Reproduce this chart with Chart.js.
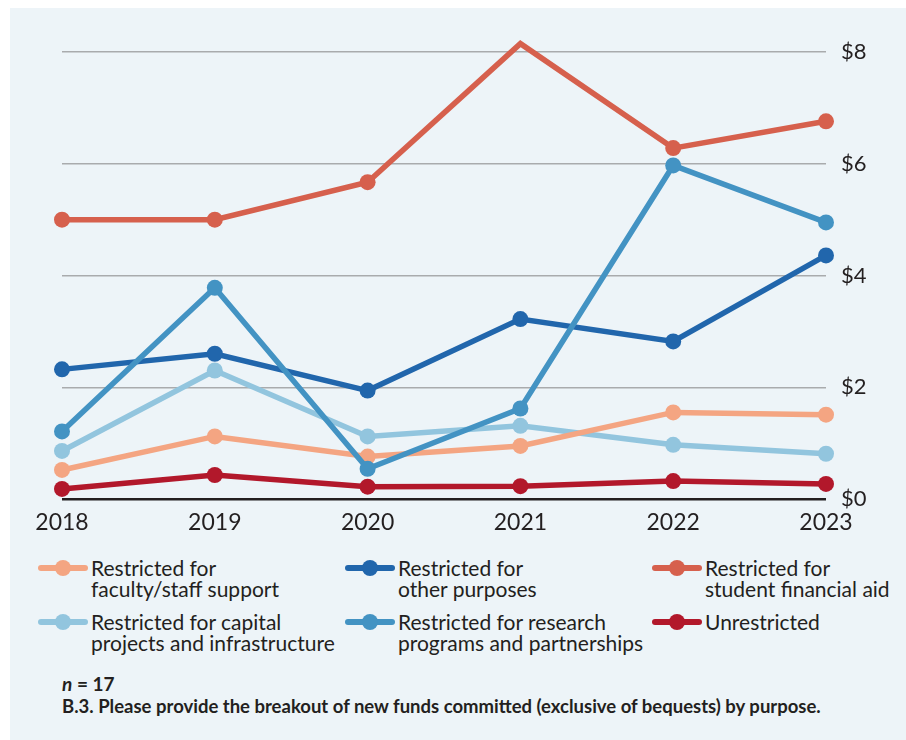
<!DOCTYPE html>
<html>
<head>
<meta charset="utf-8">
<script src="https://cdn.jsdelivr.net/npm/chart.js@4"></script>
<style>
  html, body { margin: 0; padding: 0; background: #fff; }
  body { width: 906px; height: 740px; position: relative; overflow: hidden; font-family: Lato, "Open Sans", sans-serif; color: #231f20; }
  #panel { position: absolute; left: 10px; top: 8px; right: 0; bottom: 0; background: #edf4f8; }
  #wrap { position: absolute; left: 0; top: 0; width: 906px; height: 545px; }
  #legend { position: absolute; left: 0; top: 0; }
  .item { position: absolute; font-size: 21px; line-height: 21px; }
  .mark { position: absolute; width: 50px; height: 6px; border-radius: 3px; }
  .mark span { position: absolute; left: 17px; top: -5px; width: 16px; height: 16px; border-radius: 50%; background: inherit; }
  .txt { position: absolute; white-space: nowrap; }
  .note { position: absolute; left: 62px; font-weight: 700; white-space: nowrap; }
</style>
</head>
<body>
<div id="panel"></div>
<div id="wrap"><canvas id="chart" width="906" height="545"></canvas></div>
<div id="legend"></div>
<div class="note" style="top:672px;font-size:19px;"><i>n</i> = 17</div>
<div class="note" style="top:695px;font-size:18.5px;">B.3. Please provide the breakout of new funds committed (exclusive of bequests) by purpose.</div>
<script>
const years = ["2018", "2019", "2020", "2021", "2022", "2023"];
const yTicks = [0, 2, 4, 6, 8];

const facultyStaff = [0.52, 1.12, 0.76, 0.95, 1.55, 1.51];
const otherPurposes = [2.32, 2.60, 1.94, 3.22, 2.82, 4.36];
const studentAid = [5.0, 5.0, 5.67, 8.15, 6.28, 6.76];
const capitalProjects = [0.86, 2.30, 1.12, 1.31, 0.97, 0.81];
const researchPrograms = [1.21, 3.78, 0.54, 1.62, 5.97, 4.95];
const unrestricted = [0.18, 0.43, 0.22, 0.23, 0.32, 0.27];

const seriesNames = [
  ["Restricted for", "faculty/staff support"],
  ["Restricted for", "other purposes"],
  ["Restricted for", "student financial aid"],
  ["Restricted for capital", "projects and infrastructure"],
  ["Restricted for research", "programs and partnerships"],
  ["Unrestricted"]
];
const seriesColors = ["#f4a582", "#2166ac", "#d6604d", "#92c5de", "#4393c3", "#b2182b"];
const seriesData = [facultyStaff, otherPurposes, studentAid, capitalProjects, researchPrograms, unrestricted];

// draw order: lighter lines underneath
const drawOrder = [3, 0, 5, 1, 4, 2];

const datasets = seriesData.map(function (d, i) {
  return {
    label: seriesNames[i].join(" "),
    data: d,
    borderColor: seriesColors[i],
    backgroundColor: seriesColors[i],
    borderWidth: 5.5,
    pointRadius: 8,
    pointBorderWidth: 0,
    pointHoverRadius: 8,
    tension: 0,
    clip: false,
    order: drawOrder.length - drawOrder.indexOf(i)
  };
});

const ctx = document.getElementById("chart").getContext("2d");
new Chart(ctx, {
  type: "line",
  data: { labels: years, datasets: datasets },
  options: {
    responsive: false,
    animation: false,
    events: [],
    layout: { padding: { left: 62, top: 52, right: 20, bottom: 0 } },
    plugins: { legend: { display: false }, tooltip: { enabled: false } },
    scales: {
      x: {
        offset: false,
        grid: { display: false, drawTicks: false },
        border: { display: false },
        ticks: { color: "#231f20", padding: 10, font: { family: "Lato", size: 23 }, maxRotation: 0 },
        afterFit: function (s) { s.height = 46; }
      },
      y: {
        position: "right",
        min: 0,
        max: 8,
        afterBuildTicks: function (s) { s.ticks = yTicks.map(function (v) { return { value: v }; }); },
        grid: {
          drawTicks: false,
          color: function (c) { return c.tick && c.tick.value === 0 ? "#231f20" : "#a9abad"; },
          lineWidth: function (c) { return c.tick && c.tick.value === 0 ? 2.5 : 1.5; }
        },
        border: { display: false },
        ticks: {
          color: "#231f20",
          padding: 15,
          font: { family: "Lato", size: 22 },
          callback: function (v) { return "$" + v; }
        },
        afterFit: function (s) { s.width = 60; }
      }
    }
  }
});

// html legend, 3 columns
const legend = document.getElementById("legend");
const colX = [38, 345, 652];
const rowY = [557, 611];
seriesNames.forEach(function (lines, i) {
  const item = document.createElement("div");
  item.className = "item";
  item.style.left = colX[i % 3] + "px";
  item.style.top = rowY[Math.floor(i / 3)] + "px";
  const mark = document.createElement("div");
  mark.className = "mark";
  mark.style.background = seriesColors[i];
  mark.style.left = "0px";
  mark.style.top = "8px";
  mark.appendChild(document.createElement("span"));
  const txt = document.createElement("div");
  txt.className = "txt";
  txt.style.left = "53px";
  txt.style.top = "0px";
  txt.innerHTML = lines.join("<br>");
  item.appendChild(mark);
  item.appendChild(txt);
  legend.appendChild(item);
});
</script>
</body>
</html>
